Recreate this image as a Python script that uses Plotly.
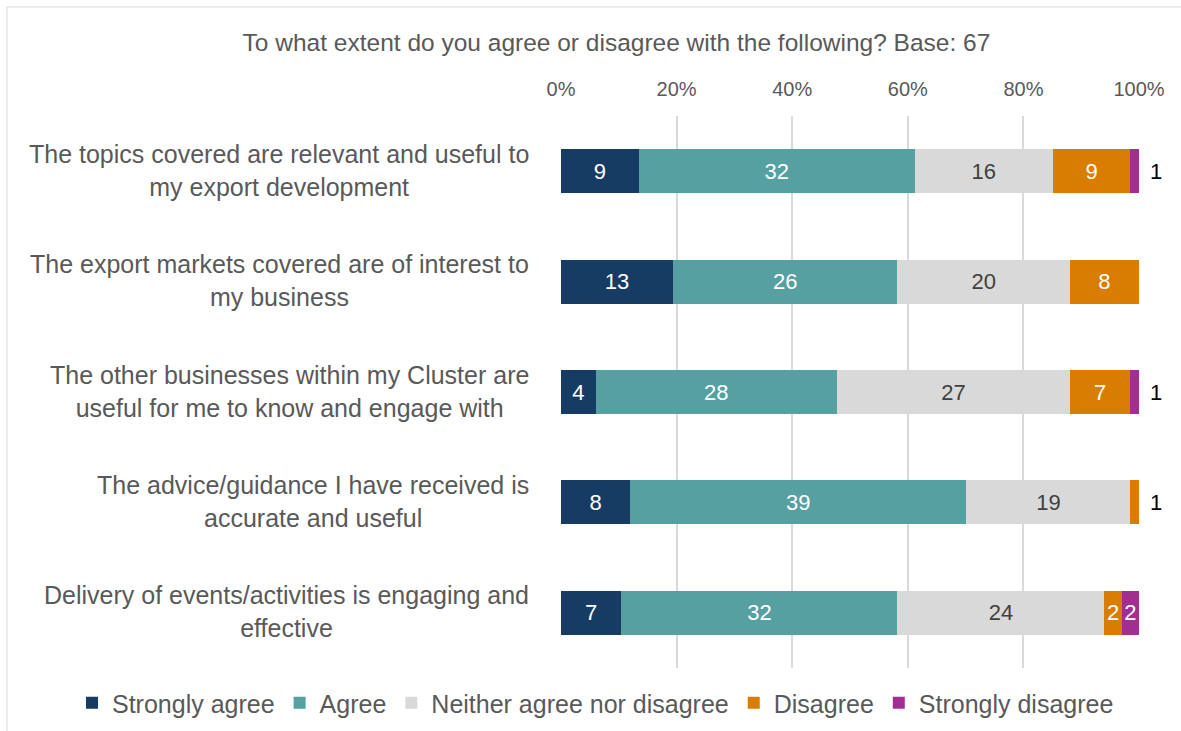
import plotly.graph_objects as go

# Survey statements (rows, top to bottom) and their wrapped display labels
statements = [
    "The topics covered are relevant and useful to my export development",
    "The export markets covered are of interest to my business",
    "The other businesses within my Cluster are useful for me to know and engage with",
    "The advice/guidance I have received is accurate and useful",
    "Delivery of events/activities is engaging and effective",
]
statement_labels = [
    "The topics covered are relevant and useful to<br>my export development",
    "The export markets covered are of interest to<br>my business",
    "The other businesses within my Cluster are<br>useful for me to know and engage with",
    "The advice/guidance I have received is<br>accurate and useful",
    "Delivery of events/activities is engaging and<br>effective",
]

responses = ["Strongly agree", "Agree", "Neither agree nor disagree", "Disagree", "Strongly disagree"]

# Number of respondents per answer
strongly_agree = [9, 13, 4, 8, 7]
agree = [32, 26, 28, 39, 32]
neither = [16, 20, 27, 19, 24]
disagree = [9, 8, 7, 1, 2]
strongly_disagree = [1, 0, 1, 0, 2]

base = 67
tick_values = [0, 0.2, 0.4, 0.6, 0.8, 1.0]

series = [strongly_agree, agree, neither, disagree, strongly_disagree]
colors = ["#173C63", "#57A0A2", "#D9D9D9", "#D97D00", "#A22E93"]
text_colors = ["#FFFFFF", "#FFFFFF", "#404040", "#FFFFFF", "#FFFFFF"]

FONT = "Liberation Sans, Arial, sans-serif"
totals = [sum(col) for col in zip(*series)]

fig = go.Figure()
for name, counts, color, tcolor in zip(responses, series, colors, text_colors):
    shares = [c / t for c, t in zip(counts, totals)]
    # counts of 1 are written beside the bar instead of inside it
    labels = [str(c) if c > 1 else "" for c in counts]
    fig.add_trace(go.Bar(
        name=name,
        y=statements,
        x=shares,
        orientation="h",
        marker=dict(color=color, line=dict(width=0)),
        width=0.4,
        text=labels,
        textposition="inside",
        insidetextanchor="middle",
        textangle=0,
        constraintext="none",
        textfont=dict(family=FONT, size=22, color=tcolor),
        hoverinfo="skip",
    ))

annotations = []
# small segments at the right end get their count outside the bar
for i, stmt in enumerate(statements):
    row = [s[i] for s in series]
    nonzero = [c for c in row if c > 0]
    if nonzero and nonzero[-1] == 1:
        annotations.append(dict(
            x=sum(row) / totals[i], y=stmt, xref="x", yref="y",
            text=str(nonzero[-1]), showarrow=False,
            xanchor="left", xshift=9,
            font=dict(family=FONT, size=22, color="#000000"),
        ))

# statement labels, centred line by line in a right-aligned block
for stmt, lab in zip(statements, statement_labels):
    annotations.append(dict(
        x=0, y=stmt, xref="paper", yref="y",
        text=lab, showarrow=False,
        xanchor="right", xshift=-30, yshift=1, align="center",
        font=dict(family=FONT, size=25, color="#595959"),
    ))

fig.update_layout(
    width=1181, height=731,
    margin=dict(l=561, r=42, t=116, b=63, autoexpand=False),
    paper_bgcolor="#FFFFFF", plot_bgcolor="#FFFFFF",
    barmode="stack",
    bargap=0.6,
    font=dict(family=FONT, color="#595959"),
    title=dict(
        text=f"To what extent do you agree or disagree with the following? Base: {base}",
        x=0.522, xref="container", xanchor="center",
        y=1 - 42 / 731, yref="container", yanchor="middle",
        font=dict(family=FONT, size=24.5, color="#595959"),
    ),
    xaxis=dict(
        side="top", range=[0, 1], tickvals=tick_values, tickformat=".0%",
        showgrid=True, gridcolor="#D9D9D9", gridwidth=1.5,
        zeroline=False, showline=False, ticks="",
        ticklabelstandoff=15,
        tickfont=dict(family=FONT, size=20, color="#595959"),
        fixedrange=True,
    ),
    yaxis=dict(
        categoryorder="array", categoryarray=statements,
        autorange="reversed", showticklabels=False,
        showgrid=False, zeroline=False, showline=False, ticks="",
        fixedrange=True,
    ),
    legend=dict(
        orientation="h", x=(72 - 561) / 578, xanchor="left",
        y=(668 - 703) / 552, yanchor="middle",
        font=dict(family=FONT, size=25, color="#595959"),
        traceorder="normal", itemclick=False, itemdoubleclick=False,
        itemwidth=30,
    ),
    annotations=annotations,
    shapes=[dict(
        type="rect", xref="paper", yref="paper",
        x0=(7 - 561) / 578, x1=(1190 - 561) / 578,
        y0=(668 - 740) / 552, y1=(668 - 7) / 552,
        line=dict(color="#D9D9D9", width=1), fillcolor="rgba(0,0,0,0)",
        layer="below",
    )],
)

fig.write_html("out.html", config={"displayModeBar": False})
